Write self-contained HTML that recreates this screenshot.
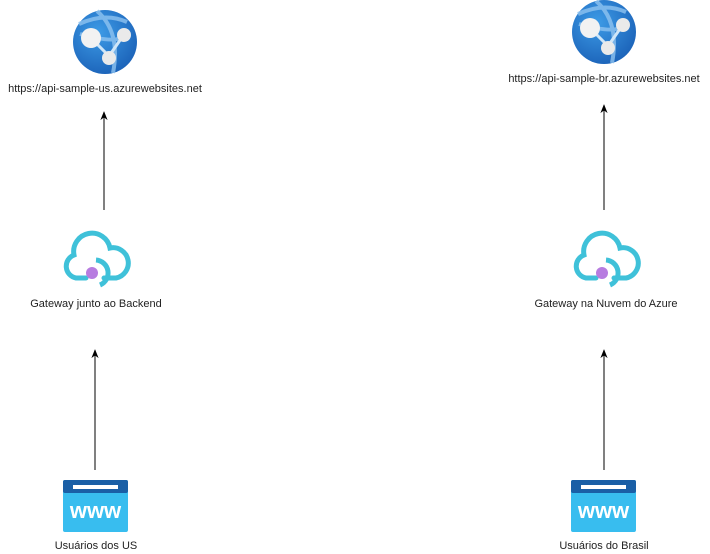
<!DOCTYPE html>
<html><head><meta charset="utf-8"><style>
html,body{margin:0;padding:0;background:#fff;}
svg{display:block;}
text{font-family:"Liberation Sans",Arial,sans-serif;font-size:11px;fill:#222;}
</style></head><body>
<svg width="710" height="554" viewBox="0 0 710 554" xmlns="http://www.w3.org/2000/svg">
<defs>
<radialGradient id="gb" cx="0.4" cy="0.35" r="0.7"><stop offset="0" stop-color="#3d9be6"/><stop offset="1" stop-color="#1b62b8"/></radialGradient>
<marker id="ah" viewBox="0 0 10 10" refX="9" refY="5" markerWidth="9" markerHeight="9" orient="auto"><path d="M0,1 L10,5 L0,9 L3,5 z" fill="#000"/></marker>
<g id="globe">
<circle cx="0" cy="0" r="32" fill="url(#gb)"/>
<path d="M-26,-18 Q0,-30 22,-20 M-8,-31 Q16,-10 8,31 M-25,-8 Q10,2 20,-6" stroke="#8ec3f0" stroke-width="4" fill="none" opacity="0.8"/>
<path d="M-14,-4 L4,14 L18,-6" stroke="#cfe6f8" stroke-width="3" fill="none"/>
<circle cx="-14" cy="-4" r="10" fill="#f2f2f2"/>
<circle cx="19" cy="-7" r="7" fill="#eaeaea"/>
<circle cx="4" cy="16" r="7" fill="#eaeaea"/>
</g>
<g id="cloud">
<path d="M-10,20 L-20,20 A12,12 0 0 1 -22,-3 A18,18 0 0 1 14,-10 A14,14 0 0 1 20,20 L8,20" stroke="#3fc1d9" stroke-width="5" fill="none" stroke-linecap="round"/>
<path d="M0,2 A13,13 0 0 1 4,27" stroke="#3fc1d9" stroke-width="5" fill="none"/>
<circle cx="-4" cy="15" r="6" fill="#b77ce0"/>
</g>
<g id="www">
<rect x="0" y="0" width="65" height="52" rx="2" fill="#38bdef"/>
<rect x="0" y="0" width="65" height="13" rx="2" fill="#1a5fa6"/>
<rect x="10" y="5" width="45" height="4" fill="#fff"/>
<text x="32.5" y="38" text-anchor="middle" style="font-size:22px;font-weight:bold;fill:#fff">www</text>
</g>
</defs>
<use href="#globe" x="105" y="42"/>
<use href="#globe" x="604" y="32"/>
<text x="105" y="92" text-anchor="middle">https://api-sample-us.azurewebsites.net</text>
<text x="604" y="82" text-anchor="middle">https://api-sample-br.azurewebsites.net</text>
<line x1="104" y1="210" x2="104" y2="112" stroke="#000" stroke-width="1" marker-end="url(#ah)"/>
<line x1="604" y1="210" x2="604" y2="105" stroke="#000" stroke-width="1" marker-end="url(#ah)"/>
<use href="#cloud" x="96" y="258"/>
<use href="#cloud" x="606" y="258"/>
<text x="96" y="307" text-anchor="middle">Gateway junto ao Backend</text>
<text x="606" y="307" text-anchor="middle">Gateway na Nuvem do Azure</text>
<line x1="95" y1="470" x2="95" y2="350" stroke="#000" stroke-width="1" marker-end="url(#ah)"/>
<line x1="604" y1="470" x2="604" y2="350" stroke="#000" stroke-width="1" marker-end="url(#ah)"/>
<use href="#www" x="63" y="480"/>
<use href="#www" x="571" y="480"/>
<text x="96" y="549" text-anchor="middle">Usuários dos US</text>
<text x="604" y="549" text-anchor="middle">Usuários do Brasil</text>
</svg>
</body></html>
